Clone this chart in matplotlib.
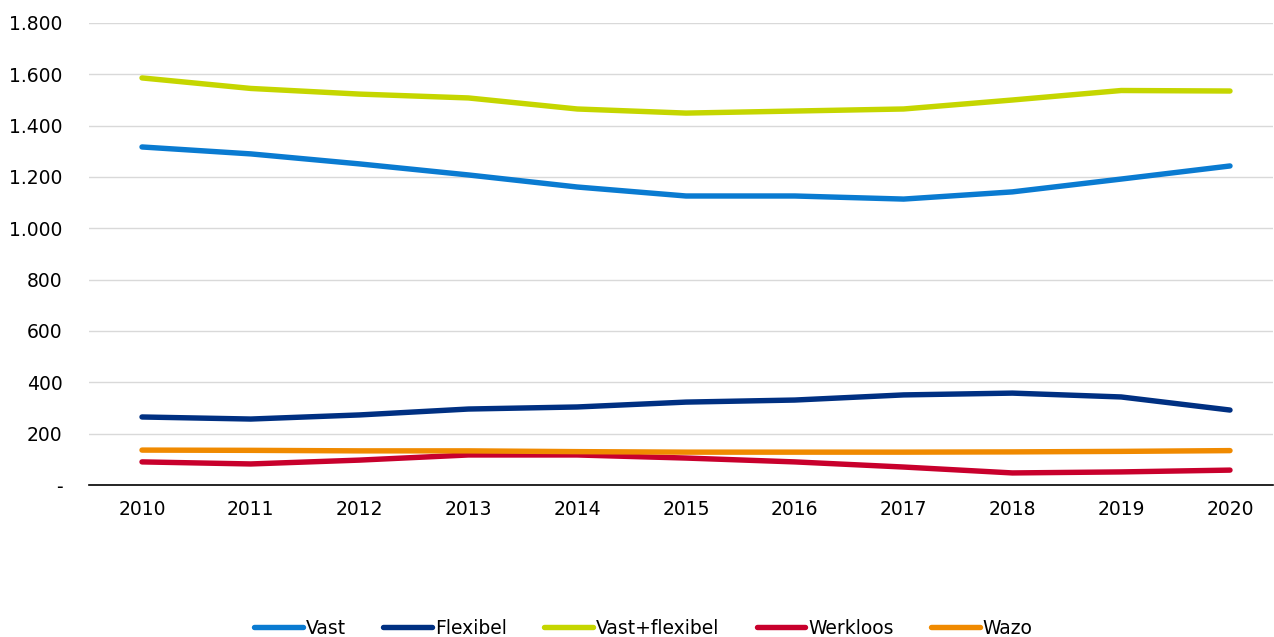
import matplotlib
matplotlib.use("Agg")
import matplotlib.pyplot as plt
from matplotlib.ticker import FuncFormatter

years = list(range(2010, 2021))
vast = [1317, 1290, 1251, 1208, 1161, 1126, 1126, 1114, 1142, 1192, 1243]
flexibel = [265, 257, 273, 296, 304, 323, 331, 351, 358, 343, 292]
vast_flexibel = [1586, 1545, 1523, 1508, 1465, 1449, 1457, 1465, 1500, 1537, 1535]
werkloos = [90, 82, 97, 117, 117, 105, 90, 70, 47, 51, 58]
wazo = [136, 135, 133, 133, 130, 128, 128, 128, 129, 131, 134]

series = [
    ("Vast", vast, "#0a7bd1"),
    ("Flexibel", flexibel, "#003082"),
    ("Vast+flexibel", vast_flexibel, "#c5d600"),
    ("Werkloos", werkloos, "#c8002c"),
    ("Wazo", wazo, "#f08a00"),
]

plt.rcParams['font.family'] = ['DejaVu Sans']
fig = plt.figure(figsize=(12.74, 6.37), dpi=100)
ax = fig.add_axes([89 / 1274, 1 - 485 / 637, 1184 / 1274, 462 / 637])

for name, vals, col in series:
    ax.plot(years, vals, color=col, lw=3.9, label=name, solid_capstyle='round')

ax.set_ylim(0, 1800)
ax.set_yticks(range(0, 1801, 200))
ax.yaxis.set_major_formatter(FuncFormatter(
    lambda v, p: "-" if v == 0 else f"{int(v):,}".replace(",", ".")))
ax.set_xlim(2010 - 53 / 108.8, 2020 + 43 / 108.8)
ax.set_xticks(years)
ax.grid(axis='y', color='#d9d9d9', lw=1)
ax.set_axisbelow(True)
for s in ['top', 'right', 'left']:
    ax.spines[s].set_visible(False)
ax.spines['bottom'].set_color('black')
ax.spines['bottom'].set_linewidth(1.2)
ax.tick_params(axis='both', length=0, labelsize=13.5, colors='black')
ax.tick_params(axis='y', pad=19)
ax.tick_params(axis='x', pad=11)

fig.legend(loc='center', bbox_to_anchor=(0.505, 1 - 628 / 637), ncol=5,
           frameon=False, fontsize=13.5, handlelength=2.6, handletextpad=0.15,
           columnspacing=2.0)

fig.savefig("out.png", dpi=100)
